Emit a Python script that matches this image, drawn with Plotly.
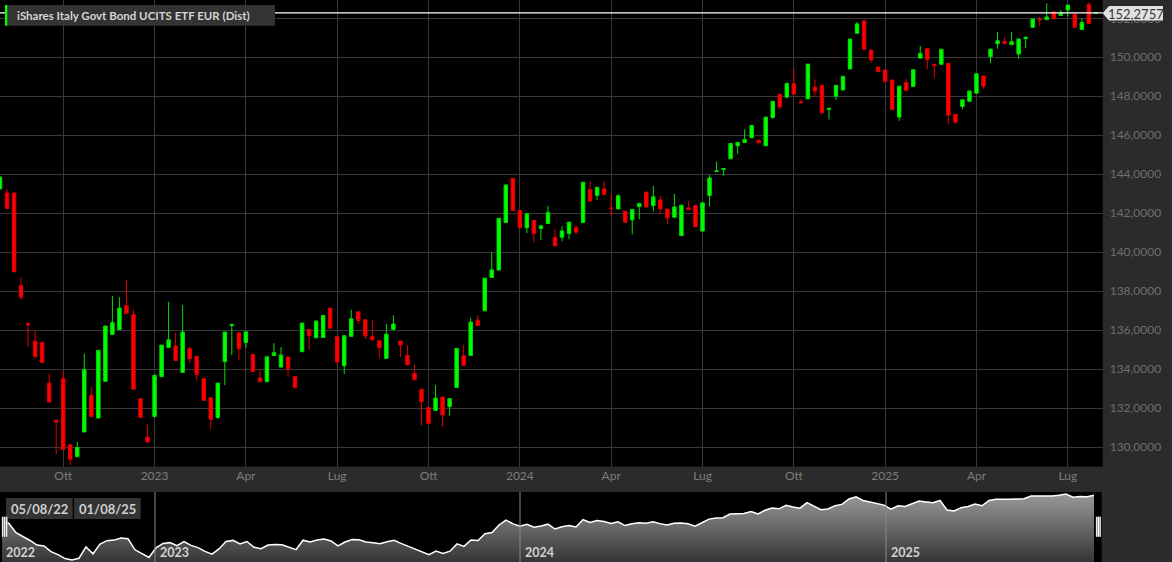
import pandas as pd
import plotly.graph_objects as go

# weekly candles (week starting Monday), 01/08/22 -> 28/07/25
dates = pd.date_range('2022-08-01', periods=157, freq='7D')

opens = [143.25, 143.04, 143.04, 138.29, 136.34, 135.44, 135.37, 133.28, 131.38, 133.50,
         130.12, 129.50, 130.77, 132.65, 131.49, 133.37, 135.78, 136.02, 137.25, 136.79,
         132.48, 130.51, 131.56, 133.61, 135.11, 135.18, 133.83, 135.06, 134.65, 133.50,
         132.53, 131.52, 134.38, 136.24, 135.86, 135.37, 134.75, 133.54, 133.35, 134.70,
         134.10, 134.62, 133.61, 134.89, 136.03, 135.61, 135.62, 137.13, 135.66, 134.17,
         135.68, 136.94, 136.53, 135.68, 135.45, 134.55, 136.03, 135.44, 134.70, 133.78,
         132.96, 132.03, 131.88, 132.56, 132.07, 133.06, 134.68, 134.70, 136.51, 136.99,
         138.70, 139.08, 141.52, 143.79, 142.14, 141.25, 141.62, 141.21, 141.47, 140.75,
         140.77, 140.96, 141.25, 141.52, 143.21, 142.91, 143.25, 142.27, 142.22, 142.10,
         141.66, 142.34, 143.08, 142.39, 142.68, 142.21, 141.79, 140.85, 142.27, 142.39,
         141.08, 142.91, 144.14, 144.24, 144.79, 145.46, 145.63, 145.87, 145.72, 145.46,
         146.91, 148.10, 147.96, 148.64, 147.72, 147.87, 148.47, 148.56, 147.33, 148.00,
         148.32, 149.40, 151.23, 151.86, 150.37, 149.50, 149.35, 148.83, 146.93, 148.70,
         148.51, 149.96, 150.44, 149.64, 149.64, 149.69, 147.07, 147.48, 147.74, 148.16,
         149.04, 150.03, 150.70, 150.82, 150.65, 150.17, 150.96, 151.54, 151.95, 151.93,
         152.33, 152.15, 152.43, 152.22, 151.43, 152.70, 152.27]

highs = [143.90, 143.23, 143.06, 138.72, 136.37, 135.98, 135.37, 133.76, 131.40, 133.93,
         130.12, 130.26, 134.79, 133.08, 134.96, 136.21, 137.76, 137.69, 138.58, 137.04,
         132.48, 131.15, 133.68, 135.23, 137.45, 135.85, 137.28, 135.16, 134.65, 133.50,
         132.53, 133.28, 135.90, 136.32, 135.86, 135.91, 134.75, 133.97, 134.63, 135.33,
         135.13, 134.62, 133.61, 136.36, 136.03, 136.50, 136.75, 137.13, 135.66, 135.71,
         137.04, 136.94, 136.53, 136.53, 135.45, 136.31, 136.77, 135.44, 135.23, 134.26,
         132.96, 132.03, 133.18, 132.56, 132.48, 135.06, 135.23, 136.62, 136.77, 138.67,
         140.00, 141.74, 143.45, 143.79, 142.14, 141.97, 141.62, 141.38, 142.38, 141.18,
         141.33, 141.54, 141.38, 143.59, 143.64, 143.33, 143.64, 142.97, 142.97, 142.10,
         142.19, 142.50, 143.08, 143.40, 142.89, 142.21, 142.99, 142.41, 142.62, 142.39,
         142.53, 143.95, 144.65, 144.29, 145.58, 145.63, 146.30, 146.50, 145.80, 146.93,
         147.74, 148.10, 148.66, 149.40, 147.84, 149.65, 148.87, 148.56, 147.40, 148.56,
         149.02, 150.94, 151.81, 151.95, 150.37, 149.50, 149.35, 148.83, 148.52, 148.90,
         149.36, 150.58, 150.44, 149.64, 150.41, 149.69, 147.07, 147.82, 148.27, 149.16,
         149.04, 150.42, 151.30, 151.02, 151.30, 150.94, 151.10, 151.97, 152.08, 152.77,
         152.33, 152.43, 152.68, 152.22, 152.00, 152.84, 152.28]

lows = [143.20, 142.22, 138.95, 137.54, 135.13, 134.63, 134.34, 132.31, 129.64, 129.88,
        129.06, 129.50, 130.77, 131.56, 131.45, 133.37, 135.78, 136.02, 136.85, 132.97,
        131.52, 130.26, 131.56, 133.61, 135.11, 134.44, 133.83, 134.31, 133.42, 132.39,
        130.92, 131.44, 133.18, 134.72, 134.46, 135.08, 133.88, 133.35, 133.35, 134.70,
        134.10, 133.59, 133.04, 134.89, 134.99, 135.58, 135.62, 136.10, 134.22, 133.74,
        135.68, 136.31, 135.54, 135.50, 134.56, 134.55, 136.03, 134.62, 134.22, 133.45,
        131.11, 131.21, 131.88, 131.03, 131.62, 133.06, 134.19, 134.70, 136.24, 136.99,
        138.70, 139.08, 141.52, 142.14, 141.26, 140.97, 140.51, 140.62, 141.44, 140.32,
        140.56, 140.67, 140.91, 141.52, 142.62, 142.67, 142.96, 141.86, 142.22, 141.49,
        140.92, 141.69, 142.32, 142.09, 141.96, 141.45, 141.79, 140.85, 142.19, 141.30,
        141.08, 142.34, 144.12, 143.93, 144.79, 145.05, 145.63, 145.87, 145.61, 145.46,
        146.85, 147.33, 147.88, 148.11, 147.67, 147.87, 148.03, 147.15, 146.81, 147.80,
        148.32, 149.40, 151.23, 150.41, 149.72, 149.26, 148.75, 147.31, 146.74, 148.30,
        148.51, 149.96, 149.38, 148.92, 149.64, 146.57, 146.62, 147.33, 147.74, 148.16,
        148.40, 149.69, 150.44, 150.70, 150.65, 149.93, 150.46, 151.54, 151.61, 151.93,
        151.98, 152.15, 152.09, 151.54, 151.43, 151.74, 152.27]

closes = [143.85, 142.24, 139.00, 137.68, 136.26, 134.63, 134.34, 132.31, 131.28, 129.88,
          129.37, 129.98, 133.98, 131.56, 134.96, 136.21, 136.39, 137.13, 136.85, 132.97,
          131.52, 130.26, 133.68, 135.23, 135.50, 134.44, 135.90, 134.53, 133.73, 132.39,
          131.42, 133.28, 135.90, 136.29, 135.04, 135.91, 133.88, 133.35, 134.63, 134.84,
          134.72, 134.00, 133.04, 136.36, 135.71, 136.46, 136.75, 136.10, 134.36, 135.71,
          136.58, 136.50, 135.71, 135.50, 135.11, 135.79, 136.31, 135.23, 134.22, 133.45,
          132.32, 131.21, 132.51, 131.64, 132.48, 135.06, 134.19, 136.41, 136.24, 138.67,
          139.09, 141.74, 143.45, 142.14, 141.26, 141.97, 140.96, 141.35, 142.03, 140.32,
          141.09, 141.54, 141.03, 143.59, 142.62, 143.33, 142.96, 142.24, 142.89, 141.54,
          142.19, 142.50, 142.32, 142.84, 142.22, 141.76, 142.32, 142.41, 142.19, 141.30,
          142.53, 143.81, 144.17, 144.29, 145.58, 145.63, 145.78, 146.50, 145.61, 146.93,
          147.74, 147.45, 148.66, 148.11, 147.67, 149.65, 148.27, 147.15, 147.38, 148.56,
          149.02, 150.94, 151.71, 150.41, 149.86, 149.26, 148.75, 147.31, 148.52, 148.30,
          149.36, 150.20, 149.89, 149.57, 150.41, 147.03, 146.66, 147.82, 148.27, 149.16,
          148.52, 150.42, 150.85, 150.70, 150.80, 150.94, 151.02, 151.97, 151.92, 152.07,
          151.98, 152.26, 152.68, 151.54, 151.78, 151.74, 152.2757]

last_price = 152.2757
name = 'iShares Italy Govt Bond UCITS ETF EUR (Dist)'
# first candle of each quarter carries the grid line / label
tick_idx = [9, 22, 35, 48, 61, 74, 87, 100, 113, 126, 139, 152]
tick_text = ['Ott', '2023', 'Apr', 'Lug', 'Ott', '2024', 'Apr', 'Lug', 'Ott', '2025', 'Apr', 'Lug']
price_ticks = [130, 132, 134, 136, 138, 140, 142, 144, 146, 148, 150, 152]
year_starts = ['2023-01-01', '2024-01-01', '2025-01-01']
year_labels = ['2023', '2024', '2025']
range_start, range_end = '05/08/22', '01/08/25'

W, H = 1172, 562


def fx(p):
    return p / W


def fy(p):
    return 1 - p / H


xr = ['2022-08-01 00:00', '2025-08-03 18:43']
xr_nav = ['2022-07-30 00:00', '2025-08-04 16:48']
right_edge = fx(1102.7)

fig = go.Figure()
fig.add_trace(go.Candlestick(
    x=dates, open=opens, high=highs, low=lows, close=closes,
    increasing=dict(fillcolor='#00ff00', line=dict(color='#00e000', width=1)),
    decreasing=dict(fillcolor='#ff0000', line=dict(color='#e00000', width=1)),
    whiskerwidth=0, showlegend=False, xaxis='x', yaxis='y'))

# navigator
fig.add_trace(go.Scatter(
    x=dates, y=closes, mode='lines', fill='tozeroy',
    line=dict(color='white', width=1.5),
    fillgradient=dict(type='vertical', start=128.7, stop=153.4,
                      colorscale=[[0, '#353535'], [1, '#9c9c9c']]),
    showlegend=False, xaxis='x2', yaxis='y2', hoverinfo='skip'))

fig.update_layout(
    width=W, height=H,
    margin=dict(l=0, r=0, t=0, b=0),
    paper_bgcolor='#2b2b2b', plot_bgcolor='black',
    separators=',.',
    font=dict(family='Lato', size=12, color='#7a7a7a'),
    xaxis=dict(domain=[0, right_edge], type='date', range=xr, rangeslider=dict(visible=False),
               tickvals=[dates[i] for i in tick_idx], ticktext=tick_text, showgrid=True,
               gridcolor='#383838', gridwidth=1, zeroline=False, showline=False, ticks='',
               tickfont=dict(family='Lato', size=12, color='#7c7c7c')),
    yaxis=dict(domain=[fy(466.7), 1], range=[128.99, 152.94], side='right',
               tickvals=price_ticks, tickformat='.4f', showgrid=True, gridcolor='#383838',
               zeroline=False, ticks='', ticklabelstandoff=6,
               tickfont=dict(family='Lato', size=12, color='#6e6e6e')),
    xaxis2=dict(domain=[0, fx(1101.7)], type='date', range=xr_nav, anchor='y2',
                showgrid=False, zeroline=False, showticklabels=False, ticks=''),
    yaxis2=dict(domain=[0, fy(492)], range=[128.66, 153.39], anchor='x2',
                showgrid=False, zeroline=False, showticklabels=False, ticks=''),
)

shapes = []
annotations = []

# last price line + label
shapes.append(dict(type='line', xref='paper', yref='y', x0=0, x1=right_edge,
                   y0=last_price, y1=last_price, line=dict(color='white', width=1.3), layer='above'))
path = 'M {},{} L {},{} L {},{} L {},{} L {},{} Z'.format(
    fx(1102.7), fy(13.3), fx(1109), fy(6), fx(1163), fy(6), fx(1163), fy(20.6), fx(1109), fy(20.6))
shapes.append(dict(type='path', xref='paper', yref='paper', path=path,
                   fillcolor='#e2e2e2', line=dict(width=0), layer='above'))
annotations.append(dict(xref='paper', yref='paper', x=fx(1136), y=fy(13.5), text='152,2757',
                        showarrow=False, xanchor='center', yanchor='middle',
                        font=dict(family='Lato', size=13, color='#383838')))

# name box
shapes.append(dict(type='rect', xref='paper', yref='paper', x0=fx(5), x1=fx(275), y0=fy(5), y1=fy(25.7),
                   fillcolor='#333333', line=dict(width=0), layer='above'))
shapes.append(dict(type='rect', xref='paper', yref='paper', x0=fx(5), x1=fx(7.3), y0=fy(5), y1=fy(25.7),
                   fillcolor='#00ff00', line=dict(width=0), layer='above'))
annotations.append(dict(xref='paper', yref='paper', x=fx(15), y=fy(15.6), text='<b>' + name + '</b>',
                        showarrow=False, xanchor='left', yanchor='middle',
                        font=dict(family='Lato', size=11.5, color='#d4d4d4')))

# navigator year lines and labels
for d, lab in zip(year_starts, year_labels):
    shapes.append(dict(type='line', xref='x2', yref='y2 domain', x0=d, x1=d, y0=0, y1=1,
                       line=dict(color='#8a8a8a', width=1), layer='above'))
    annotations.append(dict(xref='x2', yref='paper', x=d, y=fy(552), text='<b>' + lab + '</b>',
                            showarrow=False, xanchor='left', yanchor='middle', xshift=3,
                            font=dict(family='Lato', size=12.5, color='#d2d2d2')))
annotations.append(dict(xref='paper', yref='paper', x=fx(3.5), y=fy(552), text='<b>2022</b>',
                        showarrow=False, xanchor='left', yanchor='middle',
                        font=dict(family='Lato', size=12.5, color='#d2d2d2')))

# date boxes
for x0, x1, txt in [(6, 72.7, range_start), (74, 140.7, range_end)]:
    shapes.append(dict(type='rect', xref='paper', yref='paper', x0=fx(x0), x1=fx(x1), y0=fy(498), y1=fy(519),
                       fillcolor='#333333', line=dict(width=0), layer='above'))
    annotations.append(dict(xref='paper', yref='paper', x=fx((x0 + x1) / 2), y=fy(508.5), text='<b>' + txt + '</b>',
                            showarrow=False, xanchor='center', yanchor='middle',
                            font=dict(family='Lato', size=13, color='#cfcfcf')))

# navigator handles
for xs in [(2.7, 4.7, 6.7), (1096.7, 1098.4, 1100.1)]:
    shapes.append(dict(type='rect', xref='paper', yref='paper', x0=fx(xs[0] - 1), x1=fx(xs[2] + 1),
                       y0=fy(516.7), y1=fy(536.7), fillcolor='#5a5a5a', line=dict(width=0), layer='above'))
    for xv in xs:
        shapes.append(dict(type='line', xref='paper', yref='paper', x0=fx(xv), x1=fx(xv),
                           y0=fy(516.7), y1=fy(536.7), line=dict(color='white', width=1.2), layer='above'))

fig.update_layout(shapes=shapes, annotations=annotations)
fig.write_html('out.html', config={'displayModeBar': False},
               post_script="document.body.style.margin='0';document.body.style.overflow='hidden';")
